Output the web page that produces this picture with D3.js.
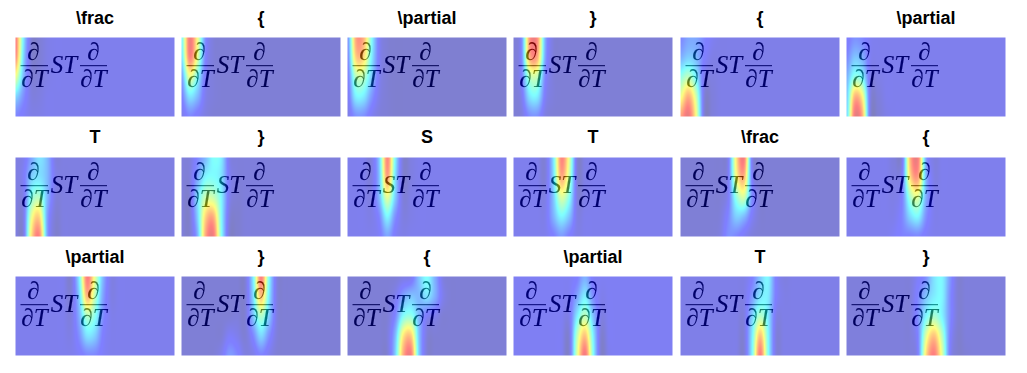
<!DOCTYPE html>
<html>
<head>
<meta charset="utf-8">
<script src="https://cdn.jsdelivr.net/npm/d3@7"></script>
<style>
  body { margin: 0; background: #fff; }
  svg { display: block; }
</style>
</head>
<body>
<div id="chart"></div>
<script>
// one title per panel, read left to right, top to bottom
const tokens = ["\\frac", "{", "\\partial", "}", "{", "\\partial",
                "T", "}", "S", "T", "\\frac", "{",
                "\\partial", "}", "{", "\\partial", "T", "}"];

// attention level away from the band (0-100 on the jet range)
const baseLevel = [8, 4, 3, 4, 7, 8,
                   6, 5, 8, 8, 4, 8,
                   8, 4, 4, 9, 7, 5];

// x (in image px) of the first column of each band below
const bandStart = [0, 0, 0, 8, 0, 0,
                   8, 8, 24, 32, 40, 48,
                   56, 40, 40, 56, 64, 72];

// attention per panel: rows at y = 0, 20, 40, 60, 80, columns every 8 px from bandStart
const attention = [
  [[90,34,4,4,7], [86,30,4,4,7], [60,24,5,5,7], [30,16,6,6,8], [14,10,7,7,8]],
  [[35,90,62,16,5], [30,86,58,14,5], [18,58,38,10,5], [12,32,24,8,5], [7,14,10,6,4]],
  [[14,78,78,40,10,4], [12,70,70,36,10,4], [10,48,50,28,9,4], [8,34,34,18,7,4], [6,16,16,9,5,4]],
  [[14,82,84,22,5], [14,76,78,20,5], [12,48,50,14,5], [8,32,34,10,5], [5,15,16,6,4]],
  [[14,20,20,14,9,7], [22,28,24,12,7,7], [42,50,34,8,6,7], [60,78,52,5,5,7], [80,92,60,4,5,7]],
  [[10,16,14,9,8,8], [14,26,22,9,8,8], [22,42,36,8,7,8], [26,76,64,7,5,8], [28,90,78,6,4,7]],
  [[8,20,32,24,6,6], [10,28,32,24,8,6], [8,40,48,24,6,6], [7,58,70,20,4,6], [6,68,86,20,3,6]],
  [[5,14,24,38,34,8,5], [5,20,36,38,32,10,5], [4,30,52,52,36,9,4], [3,28,70,78,38,6,3], [3,22,78,90,40,4,3]],
  [[6,28,86,36,4,6], [6,26,80,32,4,6], [7,24,58,28,5,7], [7,14,36,16,6,7], [8,10,20,10,7,8]],
  [[5,32,86,58,5,7], [5,30,78,52,5,7], [7,26,56,40,6,7], [8,22,36,26,7,8], [8,12,18,12,7,8]],
  [[4,9,66,88,10,4], [4,10,60,76,12,4], [4,10,42,54,16,4], [5,14,28,24,10,4], [6,16,14,9,5,4]],
  [[5,8,76,88,20,6], [6,12,68,80,24,7], [7,13,46,56,22,8], [8,14,30,36,16,8], [10,13,13,14,10,8]],
  [[4,34,88,58,24,7], [5,28,76,50,20,7], [6,22,48,40,16,8], [7,16,32,28,12,8], [8,10,14,14,10,8]],
  [[4,4,4,4,34,88,38,6], [4,4,4,4,30,74,34,6], [4,4,5,4,26,48,28,6], [4,10,8,4,14,30,16,5], [8,18,14,6,7,13,8,4]],
  [[4,4,6,8,26,38,22,6], [4,8,20,26,24,32,22,8], [4,14,38,42,24,10,8,4], [5,24,66,72,26,5,4,4], [4,28,78,88,28,4,4,4]],
  [[9,12,22,10,9,9], [9,20,34,16,8,9], [8,34,50,26,7,9], [5,50,74,36,4,9], [4,56,90,40,3,8]],
  [[7,12,26,36,12,6], [7,18,32,34,12,7], [6,28,48,34,8,7], [5,34,74,38,6,7], [4,36,88,40,6,7]],
  [[10,16,32,36,18,4,5], [14,26,34,36,16,4,5], [16,36,46,36,16,4,5], [14,56,74,50,14,3,5], [12,68,88,58,12,3,4]]
];

// pieces of the formula shown in every panel
const fracTop = "\u2202";
const fracBottom = "\u2202T";
const middle = "ST";

const panelW = 160, panelH = 80;
const panelX = [15, 181, 347, 513, 680, 846];
const panelY = [37, 157, 276];
const titleY = [24, 143, 263];
const nCols = panelX.length;

const svg = d3.select("#chart").append("svg")
    .attr("width", 1027)
    .attr("height", 373);

const blur = svg.append("defs").append("filter")
    .attr("id", "soft")
    .attr("x", "-5%").attr("y", "-5%")
    .attr("width", "110%").attr("height", "110%");
blur.append("feGaussianBlur").attr("stdDeviation", 0.45);

// matplotlib's jet, as stops
const jet = d3.scaleLinear()
    .domain([0, 11, 12.5, 37.5, 62.5, 87.5, 100])
    .range(["#000080", "#0000ff", "#0000ff", "#00ffff", "#ffff00", "#ff0000", "#800000"])
    .clamp(true);

const colScale = d3.scaleLinear().domain([0, panelW]).range([0, panelW / 8]);
const rowScale = d3.scaleLinear().domain([0, panelH]).range([0, 4]);

// catmull-rom through four samples
function cubic(a, b, c, d, t) {
  return 0.5 * (2 * b + (c - a) * t + (2 * a - 5 * b + 4 * c - d) * t * t + (3 * b - a - 3 * c + d) * t * t * t);
}

function heatImage(i) {
  const base = baseLevel[i];
  const first = bandStart[i] / 8;
  const rows = attention[i];
  const at = (r, c) => {
    const row = rows[Math.max(0, Math.min(rows.length - 1, r))];
    const k = c - first;
    if (k < 0) return c < 0 && first === 0 ? row[0] : base;
    return k < row.length ? row[k] : base;
  };
  const rowAt = (r, x) => {
    const c = Math.floor(x), t = x - c;
    return cubic(at(r, c - 1), at(r, c), at(r, c + 1), at(r, c + 2), t);
  };
  const canvas = document.createElement("canvas");
  canvas.width = panelW;
  canvas.height = panelH;
  const ctx = canvas.getContext("2d");
  const img = ctx.createImageData(panelW, panelH);
  for (let py = 0; py < panelH; py++) {
    const ry = rowScale(py + 0.5), r = Math.floor(ry), ty = ry - r;
    for (let px = 0; px < panelW; px++) {
      const x = colScale(px + 0.5);
      const v = cubic(rowAt(r - 1, x), rowAt(r, x), rowAt(r + 1, x), rowAt(r + 2, x), ty);
      const c = d3.rgb(jet(v));
      const o = (py * panelW + px) * 4;
      img.data[o] = c.r;
      img.data[o + 1] = c.g;
      img.data[o + 2] = c.b;
      img.data[o + 3] = 255;
    }
  }
  ctx.putImageData(img, 0, 0);
  return canvas.toDataURL();
}

const panels = svg.selectAll("g.panel")
    .data(tokens)
    .enter()
    .append("g")
    .attr("class", "panel")
    .attr("transform", (d, i) => "translate(" + panelX[i % nCols] + "," + panelY[Math.floor(i / nCols)] + ")");

panels.append("rect")
    .attr("width", panelW)
    .attr("height", panelH)
    .attr("fill", "#fff");

const formula = panels.append("g")
    .attr("filter", "url(#soft)")
    .attr("fill", "#000")
    .attr("stroke", "#000")
    .attr("stroke-width", 0.12)
    .attr("font-family", "'Liberation Serif', serif")
    .attr("font-style", "italic")
    .attr("font-size", 25);

[[18.5, 23, fracTop], [19.5, 50, fracBottom], [49, 36, middle], [78.5, 23, fracTop], [78.5, 50, fracBottom]]
  .forEach(p => {
    formula.append("text")
        .attr("x", p[0])
        .attr("y", p[1])
        .attr("text-anchor", "middle")
        .text(p[2]);
  });

[[5.5, 33], [65, 92]].forEach(b => {
  formula.append("line")
      .attr("x1", b[0]).attr("x2", b[1])
      .attr("y1", 28.7).attr("y2", 28.7)
      .attr("stroke", "#000")
      .attr("stroke-width", 1);
});

// blended over the white image at one half, so the text picks up the band colour
panels.append("image")
    .attr("x", 0.5)
    .attr("y", 0.5)
    .attr("width", panelW - 1)
    .attr("height", panelH - 1)
    .attr("preserveAspectRatio", "none")
    .attr("opacity", 0.5)
    .attr("href", (d, i) => heatImage(i));

svg.selectAll("text.title")
    .data(tokens)
    .enter()
    .append("text")
    .attr("class", "title")
    .attr("x", (d, i) => panelX[i % nCols] + panelW / 2)
    .attr("y", (d, i) => titleY[Math.floor(i / nCols)])
    .attr("text-anchor", "middle")
    .attr("font-family", "'Liberation Sans', Arial, sans-serif")
    .attr("font-weight", "bold")
    .attr("font-size", 18)
    .attr("fill", "#000")
    .text(d => d);
</script>
</body>
</html>
